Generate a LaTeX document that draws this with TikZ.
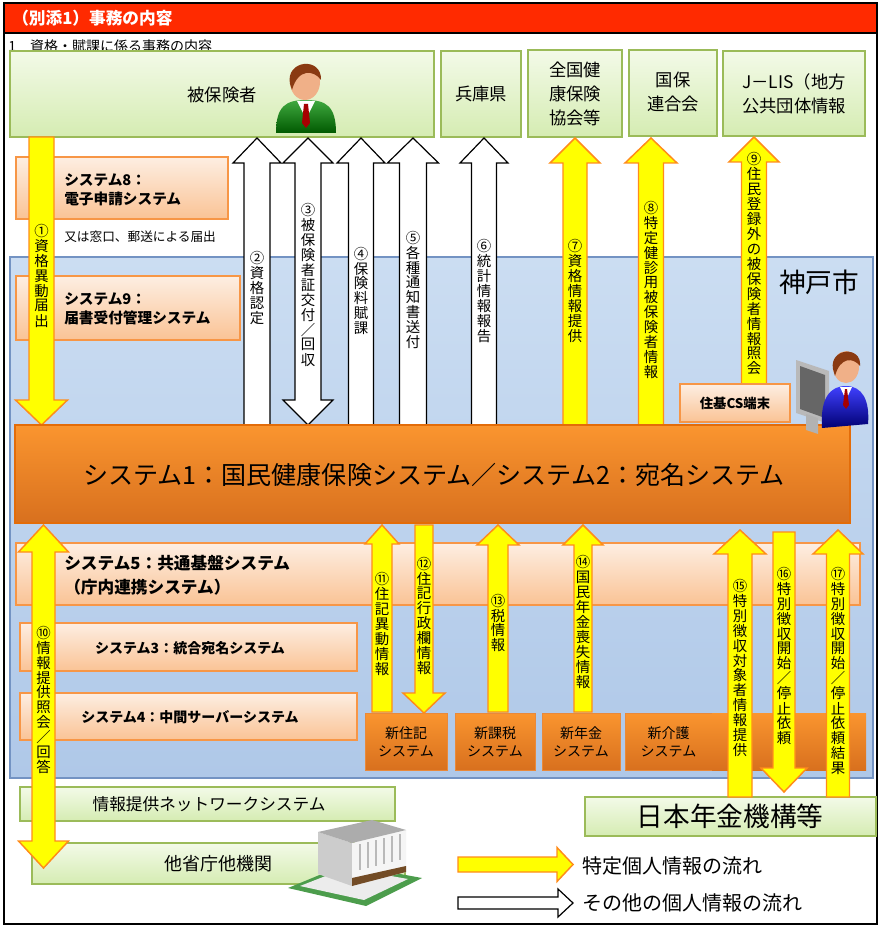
\documentclass[tikz,border=0pt]{standalone}
\usepackage{fontspec}
\setmainfont{Noto Sans CJK JP}
\usetikzlibrary{fit}
\definecolor{gtop}{HTML}{F3FAE8}
\definecolor{gbot}{HTML}{D5ECB2}
\definecolor{gline}{HTML}{9BBB59}
\definecolor{btop}{HTML}{CBDDF2}
\definecolor{bbot}{HTML}{AFC8E8}
\definecolor{bline}{HTML}{7393C3}
\definecolor{ptop}{HTML}{FDEEE2}
\definecolor{pbot}{HTML}{FAC395}
\definecolor{pline}{HTML}{F79646}
\definecolor{otop}{HTML}{FA952F}
\definecolor{obot}{HTML}{D8701E}
\definecolor{oline}{HTML}{E36C09}
\definecolor{yfill}{HTML}{FFFF00}
\definecolor{yline}{HTML}{FF8C1A}
\definecolor{titlered}{HTML}{FF2A00}
\definecolor{skin}{HTML}{F0B088}
\definecolor{hair}{HTML}{8A3A12}
\newcommand\ArUp[7]{\draw[#1] (#2-#5,#4) -- (#2-#5,#3+#7) -- (#2-#6,#3+#7) -- (#2,#3) -- (#2+#6,#3+#7) -- (#2+#5,#3+#7) -- (#2+#5,#4) -- cycle;}
\newcommand\ArDown[7]{\draw[#1] (#2-#5,#3) -- (#2-#5,#4-#7) -- (#2-#6,#4-#7) -- (#2,#4) -- (#2+#6,#4-#7) -- (#2+#5,#4-#7) -- (#2+#5,#3) -- cycle;}
\newcommand\ArBoth[7]{\draw[#1] (#2,#3) -- (#2+#6,#3+#7) -- (#2+#5,#3+#7) -- (#2+#5,#4-#7) -- (#2+#6,#4-#7) -- (#2,#4) -- (#2-#6,#4-#7) -- (#2-#5,#4-#7) -- (#2-#5,#3+#7) -- (#2-#6,#3+#7) -- cycle;}
\newcommand\ArRight[7]{\draw[#1] (#3,#2-#5) -- (#4-#7,#2-#5) -- (#4-#7,#2-#6) -- (#4,#2) -- (#4-#7,#2+#6) -- (#4-#7,#2+#5) -- (#3,#2+#5) -- cycle;}
\newcommand\FS[2]{\fontsize{#1}{#2}\selectfont\lineskiplimit=-30pt\relax}
\makeatletter
\newcommand\VT[1]{\vbox{\offinterlineskip\@tfor\vt@c:=#1\do{\hbox to 1.1em{\hss\vbox to 11.2pt{\vss\hbox{\vt@c}\vss}\hss}}}}
\makeatother
\begin{document}
\begin{tikzpicture}[x=0.75pt,y=-0.75pt,
  gbox/.style={draw=gline, line width=0.9pt, top color=gtop, bottom color=gbot, inner sep=0pt},
  bbox/.style={draw=bline, line width=0.8pt, top color=btop, bottom color=bbot, inner sep=0pt},
  pbox/.style={draw=pline, line width=0.8pt, top color=ptop, bottom color=pbot, inner sep=0pt},
  obox/.style={draw=oline, line width=0.8pt, top color=otop, bottom color=obot, inner sep=0pt},
  sbox/.style={draw=oline!80!white, line width=0.5pt, top color=otop, bottom color=obot, inner sep=0pt},
  txt/.style={inner sep=0pt, align=center},
  yarr/.style={fill=yfill, draw=yline, line width=1.1pt},
  warr/.style={fill=white, draw=black, line width=0.9pt},
  vlab/.style={inner sep=0pt, font=\fontsize{10.8}{12}\selectfont},
  toptxt/.style={txt, font=\FS{13}{18}},
  boldtxt/.style={font=\bfseries\FS{11}{14.5}, align=left, inner sep=0pt}
]
\useasboundingbox (0,0) rectangle (879,927);
% frame and title
\fill[white] (0,0) rectangle (879,927);
\fill[titlered] (5,4) rectangle (876,33);
\draw[line width=1pt] (4,3) rectangle (877,924);
\draw[line width=1pt] (4,33) -- (877,33);
\node[anchor=west, text=white, inner sep=0pt, font=\bfseries\FS{12.5}{14}] (title) at (12,18) {（別添1）事務の内容};
\node[anchor=west, inner sep=0pt, font=\FS{10.5}{12}] (subtitle) at (8,46.5) {1　資格・賦課に係る事務の内容};
% top green boxes
\node[gbox, fit={(10,51)(434,137)}] (hiho) {};
\node[toptxt] (hihot) at (222,95) {被保険者};
\node[gbox, fit={(441,51)(521,137)}] (hyogo) {};
\node[toptxt] (hyogot) at (hyogo.center) {兵庫県};
\node[gbox, fit={(528,50)(622,137)}] (kyokai) {};
\node[toptxt] (kyokait) at (575,94) {全国健\\康保険\\協会等};
\node[gbox, fit={(629,50)(717,136)}] (kokuho) {};
\node[toptxt] (kokuhot) at (673,92) {国保\\連合会};
\node[gbox, fit={(723,51)(865,136)}] (jlis) {};
\node[toptxt] (jlist) at (794,94) {J－LIS（地方\\公共団体情報};
% person icon
\shade[top color=green!55!black!75, bottom color=green!35!black] (276,133) .. controls (276,106) and (286,100) .. (306,100) .. controls (326,100) and (336,106) .. (336,133) -- cycle;
\fill[white] (297,101) -- (315,101) -- (306,119) -- cycle;
\fill[red!65!black] (304,104) -- (308,104) -- (310,123) -- (306,128) -- (302,123) -- cycle;
\fill[skin] (305,82) ellipse (15 and 18);
\fill[hair] (290,84) .. controls (285,60) and (322,56) .. (321,80) .. controls (314,70) and (298,68) .. (292,90) -- cycle;
% Kobe region
\node[bbox, fit={(10,257)(873,778)}] (kobe) {};
\node[inner sep=0pt, font=\FS{20}{24}] (kobelbl) at (819,282) {神戸市};
% system 8 / 9
\node[pbox, fit={(16,157)(228,219)}] (sys8) {};
\node[boldtxt, anchor=west] (sys8t) at (64,190) {システム8：\\電子申請システム};
\node[anchor=west, inner sep=0pt, font=\FS{9.5}{11}] (madoguchi) at (64,237) {又は窓口、郵送による届出};
\node[pbox, fit={(16,276)(240,340)}] (sys9) {};
\node[boldtxt, anchor=west] (sys9t) at (64,309) {システム9：\\届書受付管理システム};
% upper arrows
\ArDown{yarr}{41.5}{137}{425}{12.5}{26}{25}
\ArUp{warr}{257}{138}{427}{13}{24}{25}
\ArBoth{warr}{308}{138}{425}{13}{25}{25}
\ArUp{warr}{361}{138}{427}{12.5}{24}{25}
\ArUp{warr}{413}{138}{427}{13.5}{25.5}{25}
\ArUp{warr}{484}{138}{427}{12.5}{24}{25}
\ArUp{yarr}{575}{138}{425}{12}{25}{25}
\ArUp{yarr}{651}{138}{425}{12.5}{26}{25}
\ArUp{yarr}{754}{137}{384}{12.5}{25}{25}
\node[vlab] (l1) at (41.5,276) {\VT{①資格異動届出}};
\node[vlab] (l2) at (257,288) {\VT{②資格認定}};
\node[vlab] (l3) at (308,285) {\VT{③被保険者証交付／回収}};
\node[vlab] (l4) at (361,291) {\VT{④保険料賦課}};
\node[vlab] (l5) at (413,290) {\VT{⑤各種通知書送付}};
\node[vlab] (l6) at (484,291) {\VT{⑥統計情報報告}};
\node[vlab] (l7) at (575,291) {\VT{⑦資格情報提供}};
\node[vlab] (l8) at (651,290) {\VT{⑧特定健診用被保険者情報}};
\node[vlab] (l9) at (754,264) {\VT{⑨住民登録外の被保険者情報照会}};
% main bar
\node[obox, fit={(15,425)(850,523)}] (main) {};
\node[txt, font=\FS{18.8}{22}] (maint) at (434,475) {システム1：国民健康保険システム／システム2：宛名システム};
% juki CS
\node[pbox, fit={(680,384)(790,422)}] (cs) {};
\node[txt, font=\bfseries\FS{10}{12}] (cst) at (cs.center) {住基CS端末};
% operator icon
\fill[gray!55] (796,360) -- (829,371) -- (829,424) -- (796,413) -- cycle;
\fill[gray!80!black] (800,366) -- (825,375) -- (825,418) -- (800,409) -- cycle;
\fill[gray!60] (806,414) -- (818,418) -- (818,434) -- (806,430) -- cycle;
\shade[top color=blue!75, bottom color=blue!45!black] (822,428) .. controls (820,398) and (830,386) .. (846,386) .. controls (862,386) and (870,400) .. (868,424) -- cycle;
\fill[white] (840,387) -- (852,387) -- (846,400) -- cycle;
\fill[red!65!black] (845,389) -- (847,389) -- (849,405) -- (846,409) -- (843,405) -- cycle;
\fill[skin] (846,367) ellipse (13 and 16);
\fill[hair] (833,369) .. controls (829,348) and (862,345) .. (860,366) .. controls (853,357) and (840,357) .. (835,376) -- cycle;
% system 5/3/4
\node[pbox, fit={(16,543)(860,605)}] (sys5) {};
\node[boldtxt, anchor=west, font=\bfseries\FS{12.5}{18}] (sys5t) at (64,575) {システム5：共通基盤システム\\（庁内連携システム）};
\node[pbox, fit={(20,623)(357,671)}] (sys3) {};
\node[txt, font=\bfseries\FS{10.5}{12}] (sys3t) at (190,648) {システム3：統合宛名システム};
\node[pbox, fit={(20,693)(357,740)}] (sys4) {};
\node[txt, font=\bfseries\FS{10.5}{12}] (sys4t) at (190,717) {システム4：中間サーバーシステム};
% bottom systems
\node[sbox, fit={(365,713)(447,770)}] (jk) {};
\node[txt, font=\FS{10.5}{13.5}] (jkt) at (jk.center) {新住記\\システム};
\node[sbox, fit={(455,713)(535,770)}] (kz) {};
\node[txt, font=\FS{10.5}{13.5}] (kzt) at (kz.center) {新課税\\システム};
\node[sbox, fit={(542,713)(620,770)}] (nk) {};
\node[txt, font=\FS{10.5}{13.5}] (nkt) at (nk.center) {新年金\\システム};
\node[sbox, fit={(625,713)(712,770)}] (kg) {};
\node[txt, font=\FS{10.5}{13.5}] (kgt) at (kg.center) {新介護\\システム};
\node[sbox, draw=none, fit={(712,713)(866,770)}] (kgx) {};
% bottom green boxes
\node[gbox, fit={(20,787)(395,821)}] (net) {};
\node[txt, font=\FS{12.5}{14}] (nett) at (209,804) {情報提供ネットワークシステム};
\node[gbox, fit={(32,843)(405,884)}] (tasho) {};
\node[txt, font=\FS{13.5}{15}] (tashot) at (218,864) {他省庁他機関};
\node[gbox, fit={(585,797)(876,836)}] (nenkin) {};
\node[txt, font=\FS{20}{22}] (nenkint) at (730,816) {日本年金機構等};
% building icon
\fill[green!45!black!70] (288,888) -- (346,864) -- (422,878) -- (366,906) -- cycle;
\fill[gray!15] (300,886) -- (346,868) -- (408,879) -- (364,900) -- cycle;
\fill[gray!40] (318,832) -- (352,843) -- (352,886) -- (318,874) -- cycle;
\fill[gray!8] (352,843) -- (406,830) -- (406,872) -- (352,886) -- cycle;
\fill[gray!65] (318,832) -- (372,820) -- (406,830) -- (352,843) -- cycle;
\foreach \wx in {360,368,376,384,392,400}{
  \draw[gray!55, line width=1.2pt] (\wx,846-0.24*\wx+0.24*352) -- (\wx,872-0.26*\wx+0.26*352);
}
\fill[brown!60!black] (352,878) -- (406,866) -- (406,872) -- (352,886) -- cycle;
% lower arrows
\ArBoth{yarr}{43.5}{525}{868}{11.5}{25}{27}
\ArUp{yarr}{382}{525}{712}{10}{17}{19}
\ArDown{yarr}{424}{525}{713}{9}{21}{20}
\ArUp{yarr}{498}{525}{712}{10}{21}{20}
\ArUp{yarr}{583}{525}{712}{9}{20}{20}
\ArUp{yarr}{740}{530}{797}{12}{26}{24}
\ArDown{yarr}{784}{532}{792}{11}{23}{24}
\ArUp{yarr}{838}{530}{797}{11.5}{25}{24}
\node[vlab] (l10) at (43.5,700) {\VT{⑩情報提供照会／回答}};
\node[vlab] (l11) at (382,624) {\VT{⑪住記異動情報}};
\node[vlab] (l12) at (424,616) {\VT{⑫住記行政欄情報}};
\node[vlab] (l13) at (498,623) {\VT{⑬税情報}};
\node[vlab] (l14) at (583,622) {\VT{⑭国民年金喪失情報}};
\node[vlab] (l15) at (740,668) {\VT{⑮特別徴収対象者情報提供}};
\node[vlab] (l16) at (784,656) {\VT{⑯特別徴収開始／停止依頼}};
\node[vlab] (l17) at (838,671) {\VT{⑰特別徴収開始／停止依頼結果}};
% legend
\ArRight{yarr}{864.5}{458}{573}{7.5}{17}{16}
\ArRight{warr}{903}{458}{573}{6}{14}{15}
\node[anchor=west, inner sep=0pt, font=\FS{15}{17}] (leg1) at (582,866) {特定個人情報の流れ};
\node[anchor=west, inner sep=0pt, font=\FS{15}{17}] (leg2) at (582,903) {その他の個人情報の流れ};
\end{tikzpicture}
\end{document}
